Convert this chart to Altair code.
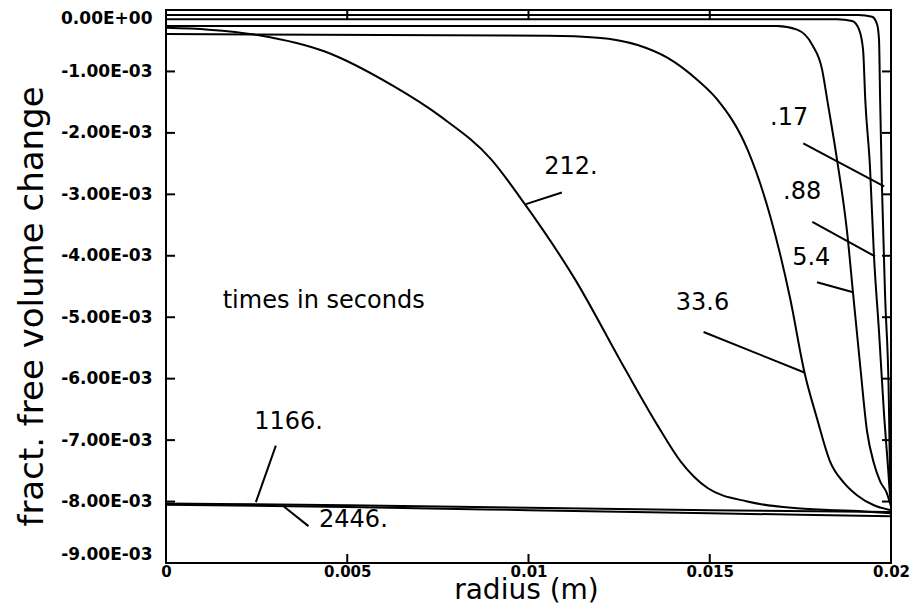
import altair as alt
import pandas as pd

# ---- curve data: radius (m) and fractional free volume change ----
r_017 = [0, 0.0191, 0.01948, 0.01962, 0.01967, 0.01970, 0.01975, 0.01984, 0.01994, 0.01997, 0.0200]
v_017 = [-0.08e-3, -0.08e-3, -0.11e-3, -0.24e-3, -0.49e-3, -1.46e-3, -2.87e-3, -4.70e-3, -6.32e-3, -7.46e-3, -7.95e-3]

r_088 = [0, 0.01851, 0.01893, 0.01912, 0.01923, 0.01929, 0.01942, 0.01953, 0.01967, 0.01981, 0.01992, 0.01997, 0.0200]
v_088 = [-0.15e-3, -0.15e-3, -0.18e-3, -0.32e-3, -0.65e-3, -1.46e-3, -2.55e-3, -4.00e-3, -5.24e-3, -6.60e-3, -7.46e-3, -7.87e-3, -8.03e-3]

r_54 = [0, 0.01686, 0.01741, 0.01783, 0.01810, 0.01824, 0.01851, 0.01879, 0.01895, 0.01915, 0.01934, 0.01953, 0.01970, 0.01989, 0.0200]
v_54 = [-0.26e-3, -0.26e-3, -0.32e-3, -0.57e-3, -0.97e-3, -1.46e-3, -2.43e-3, -3.62e-3, -4.59e-3, -5.79e-3, -6.86e-3, -7.38e-3, -7.67e-3, -7.87e-3, -8.08e-3]

r_336 = [0, 0.01054, 0.01191, 0.01301, 0.01384, 0.01466, 0.01521, 0.01604, 0.01667, 0.01722, 0.01761, 0.01796, 0.01832, 0.01871, 0.01907, 0.01953, 0.0200]
v_336 = [-0.39e-3, -0.42e-3, -0.45e-3, -0.57e-3, -0.78e-3, -1.14e-3, -1.46e-3, -2.27e-3, -3.36e-3, -4.70e-3, -5.89e-3, -6.65e-3, -7.35e-3, -7.70e-3, -7.90e-3, -8.06e-3, -8.14e-3]

r_212 = [0, 0.00118, 0.00256, 0.00440, 0.00622, 0.00759, 0.00897, 0.00990, 0.01128, 0.01266, 0.01356, 0.01420, 0.01494, 0.01604, 0.01741, 0.01926, 0.0200]
v_212 = [-0.29e-3, -0.32e-3, -0.41e-3, -0.68e-3, -1.22e-3, -1.74e-3, -2.43e-3, -3.16e-3, -4.38e-3, -5.84e-3, -6.76e-3, -7.35e-3, -7.78e-3, -8.00e-3, -8.11e-3, -8.16e-3, -8.19e-3]

r_1166 = [0, 0.005, 0.01, 0.015, 0.02]
v_1166 = [-8.03e-3, -8.06e-3, -8.10e-3, -8.14e-3, -8.17e-3]

r_2446 = [0, 0.005, 0.01, 0.015, 0.02]
v_2446 = [-8.05e-3, -8.09e-3, -8.14e-3, -8.19e-3, -8.24e-3]

# ---- annotation labels and leader lines ----
label_text = [".17", ".88", "5.4", "33.6", "212.", "1166.", "2446.", "times in seconds"]
label_r = [0.01719, 0.01755, 0.01780, 0.01480, 0.01117, 0.00338, 0.00517, 0.00435]
label_v = [-1.75e-3, -2.97e-3, -4.04e-3, -4.77e-3, -2.56e-3, -6.70e-3, -8.30e-3, -4.74e-3]

lead_r1 = [0.01758, 0.01783, 0.01796, 0.01483, 0.01092, 0.00303, 0.00325]
lead_v1 = [-2.17e-3, -3.45e-3, -4.43e-3, -5.24e-3, -2.97e-3, -7.09e-3, -8.08e-3]
lead_r2 = [0.01981, 0.01956, 0.01893, 0.01761, 0.00993, 0.00248, 0.00393]
lead_v2 = [-2.87e-3, -4.01e-3, -4.59e-3, -5.90e-3, -3.16e-3, -8.01e-3, -8.40e-3]

# ---- axis ticks ----
x_ticks = [0, 0.005, 0.01, 0.015, 0.02]
y_ticks = [0, -1e-3, -2e-3, -3e-3, -4e-3, -5e-3, -6e-3, -7e-3, -8e-3, -9e-3]
x_inner_ticks = [0.005, 0.01, 0.015]
y_inner_ticks = [-1e-3, -2e-3, -3e-3, -4e-3, -5e-3, -6e-3, -7e-3, -8e-3]

series = [
    (".17", r_017, v_017),
    (".88", r_088, v_088),
    ("5.4", r_54, v_54),
    ("33.6", r_336, v_336),
    ("212.", r_212, v_212),
    ("1166.", r_1166, v_1166),
    ("2446.", r_2446, v_2446),
]
rows = []
for name, rs, vs in series:
    for i, (r, v) in enumerate(zip(rs, vs)):
        rows.append({"series": name, "i": i, "r": r, "v": v})
curves = pd.DataFrame(rows)

labels = pd.DataFrame({"text": label_text, "r": label_r, "v": label_v})
leaders = pd.DataFrame({"r": lead_r1, "v": lead_v1, "r2": lead_r2, "v2": lead_v2})
xt = pd.DataFrame({"r": x_inner_ticks})
yt = pd.DataFrame({"v": y_inner_ticks})

W, H = 725, 553
FONT = "DejaVu Sans"

xscale = alt.Scale(domain=[0, 0.02], nice=False, zero=False)
yscale = alt.Scale(domain=[-0.009, 0], nice=False, zero=False)

xaxis = alt.Axis(
    values=x_ticks, format="~g", ticks=False, domain=False, grid=False,
    labelFont=FONT, labelFontSize=15, labelFontWeight="bold", labelColor="black",
    labelPadding=1, labelFlush=False,
    title="radius (m)", titleFont=FONT, titleFontSize=28, titleFontWeight="normal",
    titleColor="black", titleBaseline="alphabetic", titleY=35, titleX=360,
)
yaxis = alt.Axis(
    values=y_ticks, ticks=False, domain=False, grid=False,
    labelExpr="datum.value == 0 ? '0.00E+00' : '-' + format(-datum.value*1000, '.2f') + 'E-03'",
    labelFont=FONT, labelFontSize=17, labelFontWeight="bold", labelColor="black",
    labelPadding=14, labelFlush=True,
    title="fract. free volume change", titleFont=FONT, titleFontSize=34,
    titleFontWeight="normal", titleColor="black", titleBaseline="middle",
    titleAngle=270, titleX=-134, titleY=296,
)

lines = alt.Chart(curves).mark_line(
    color="black", strokeWidth=2, interpolate="monotone"
).encode(
    x=alt.X("r:Q", scale=xscale, axis=xaxis),
    y=alt.Y("v:Q", scale=yscale, axis=yaxis),
    detail="series:N",
    order="i:Q",
)

lead = alt.Chart(leaders).mark_rule(color="black", strokeWidth=2).encode(
    x=alt.X("r:Q", scale=xscale), y=alt.Y("v:Q", scale=yscale),
    x2="r2:Q", y2="v2:Q",
)

text = alt.Chart(labels).mark_text(
    font=FONT, fontSize=24, color="black", align="center", baseline="middle"
).encode(
    x=alt.X("r:Q", scale=xscale), y=alt.Y("v:Q", scale=yscale), text="text:N"
)

tick_bottom = alt.Chart(xt).mark_rule(color="black", strokeWidth=2).encode(
    x=alt.X("r:Q", scale=xscale), y=alt.value(H), y2=alt.value(H - 9)
)
tick_top = alt.Chart(xt).mark_rule(color="black", strokeWidth=2).encode(
    x=alt.X("r:Q", scale=xscale), y=alt.value(0), y2=alt.value(9)
)
tick_left = alt.Chart(yt).mark_rule(color="black", strokeWidth=2).encode(
    y=alt.Y("v:Q", scale=yscale), x=alt.value(0), x2=alt.value(9)
)
tick_right = alt.Chart(yt).mark_rule(color="black", strokeWidth=2).encode(
    y=alt.Y("v:Q", scale=yscale), x=alt.value(W), x2=alt.value(W - 9)
)

chart = alt.layer(
    lines, lead, text, tick_bottom, tick_top, tick_left, tick_right
).properties(
    width=W, height=H,
    autosize=alt.AutoSizeParams(type="none"),
    padding={"left": 158, "top": 2, "right": 19, "bottom": 42},
    background="white",
).configure_view(
    stroke="black", strokeWidth=2
)

chart.save("out.html", embed_options={"renderer": "svg", "actions": False})
